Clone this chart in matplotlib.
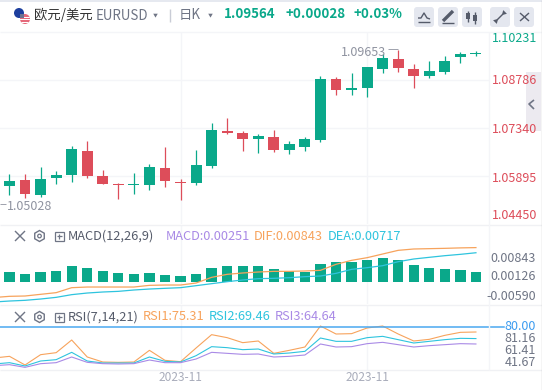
import numpy as np
import matplotlib
matplotlib.use('Agg')
import matplotlib.pyplot as plt
from matplotlib.patches import Circle, FancyBboxPatch, Rectangle, RegularPolygon

plt.rcParams['font.family'] = ['Noto Sans CJK SC', 'DejaVu Sans']

# K-line data
opens = [1.05596, 1.05776, 1.05325, 1.05836, 1.05927, 1.06649, 1.05896, 1.05656, 1.05626, 1.05626, 1.06137,
         1.05716, 1.05686, 1.06198, 1.07251, 1.07191, 1.07010, 1.07070, 1.06679, 1.06769, 1.06980, 1.08816,
         1.08485, 1.08545, 1.09117, 1.09418, 1.09117, 1.08906, 1.09027, 1.09478, 1.09569]
closes = [1.05746, 1.05355, 1.05806, 1.05927, 1.06709, 1.05896, 1.05656, 1.05626, 1.05656, 1.06167, 1.05746,
          1.05686, 1.06228, 1.07281, 1.07191, 1.07010, 1.07100, 1.06679, 1.06860, 1.07010, 1.08816, 1.08485,
          1.08545, 1.09177, 1.09448, 1.09147, 1.08906, 1.09057, 1.09358, 1.09569, 1.09599]
highs = [1.05957, 1.05957, 1.06167, 1.06047, 1.06799, 1.06950, 1.06077, 1.05686, 1.05987, 1.06258, 1.06769,
         1.05806, 1.06679, 1.07492, 1.07642, 1.07251, 1.07161, 1.07281, 1.06950, 1.07070, 1.08906, 1.08876,
         1.08997, 1.09177, 1.09569, 1.09689, 1.09268, 1.09358, 1.09508, 1.09629, 1.09659]
lows = [1.05325, 1.05234, 1.05264, 1.05656, 1.05716, 1.05836, 1.05656, 1.05204, 1.05355, 1.05475, 1.05565,
        1.05174, 1.05626, 1.06137, 1.07161, 1.06649, 1.06589, 1.06619, 1.06559, 1.06649, 1.06920, 1.08335,
        1.08335, 1.08274, 1.08997, 1.09027, 1.08545, 1.08846, 1.08967, 1.09298, 1.09508]

# MACD
macd = [0.00250, 0.00200, 0.00250, 0.00275, 0.00400, 0.00350, 0.00275, 0.00225, 0.00200, 0.00225, 0.00175,
        0.00150, 0.00200, 0.00350, 0.00400, 0.00400, 0.00400, 0.00325, 0.00275, 0.00250, 0.00450, 0.00500,
        0.00500, 0.00550, 0.00600, 0.00533, 0.00425, 0.00350, 0.00325, 0.00300, 0.00251]
# first point of each line is the candle just off the left edge
dif = [-0.00380, -0.00351, -0.00343, -0.00302, -0.00261, -0.00139, -0.00123, -0.00123, -0.00123, -0.00123,
       -0.00082, -0.00074, -0.00074, -0.00025, 0.00114, 0.00188, 0.00221, 0.00245, 0.00261, 0.00261, 0.00270,
       0.00286, 0.00433, 0.00531, 0.00596, 0.00686, 0.00776, 0.00809, 0.00817, 0.00825, 0.00836, 0.00843]
dea = [-0.00490, -0.00466, -0.00449, -0.00417, -0.00376, -0.00310, -0.00270, -0.00245, -0.00229, -0.00196,
       -0.00172, -0.00155, -0.00139, -0.00090, -0.00041, 0.00008, 0.00049, 0.00082, 0.00090, 0.00106, 0.00131,
       0.00147, 0.00212, 0.00310, 0.00351, 0.00400, 0.00498, 0.00564, 0.00605, 0.00645, 0.00678, 0.00717]

# RSI
rsi1 = [52.17, 53.65, 45.94, 55.13, 56.91, 68.19, 53.06, 48.61, 48.31, 48.61, 59.00, 50.09, 48.90, 61.07, 72.94,
        70.27, 65.82, 67.30, 56.32, 59.00, 61.96, 80.65, 73.53, 73.83, 78.87, 80.65, 73.53, 67.30, 68.78, 72.34,
        75.01, 75.31]
rsi2 = [46.83, 48.01, 45.05, 49.50, 50.68, 57.21, 49.50, 47.72, 47.72, 47.72, 53.06, 49.20, 48.61, 54.24, 62.26,
        61.37, 59.59, 60.18, 55.73, 56.62, 58.10, 69.97, 67.00, 67.00, 70.27, 71.45, 68.49, 65.52, 67.00, 68.49,
        69.67, 69.46]
rsi3 = [45.34, 46.23, 43.86, 47.12, 48.01, 53.06, 48.31, 47.12, 46.83, 47.12, 50.39, 48.01, 48.01, 51.28, 57.21,
        56.32, 55.43, 55.73, 53.06, 53.65, 54.84, 64.63, 61.96, 62.26, 64.93, 66.11, 64.04, 61.96, 63.15, 64.04,
        64.93, 64.64]

date_pos = [11, 23]
date_labels = ['2023-11', '2023-11']

GREEN = '#0aa88a'
RED = '#dd4d5a'
ORANGE = '#f7a35c'
BLUE = '#2ec4de'
PURPLE = '#a98ae6'
GRID = '#f4f5f8'
GRAY = '#6f7585'
W, H = 542, 390

fig = plt.figure(figsize=(W / 100, H / 100), dpi=100, facecolor='white')


def panel(top, bottom):
    # axes from pixel rows, all share the same column
    a = fig.add_axes([0, 1 - bottom / H, 489 / W, (bottom - top) / H])
    a.set_xlim(-0.611, 30.84)
    for s in a.spines.values():
        s.set_visible(False)
    a.tick_params(length=0, labelleft=False, labelbottom=False, left=False)
    a.set_xticks(date_pos)
    a.grid(axis='x', color=GRID, lw=1)
    a.set_axisbelow(True)
    return a


# 日K
ax = panel(32, 224)
ax.set_ylim(1.0445, 1.10231)
ax.set_yticks([1.05895, 1.0734, 1.08786])
ax.grid(axis='y', color=GRID, lw=1)
x = np.arange(len(opens))
colors = [GREEN if c >= o else RED for o, c in zip(opens, closes)]
ax.vlines(x, lows, highs, colors=colors, lw=0.9)
ax.bar(x, np.abs(np.array(closes) - np.array(opens)), bottom=np.minimum(opens, closes), width=0.7, color=colors)

# MACD
ax2 = panel(225, 304)
ax2.set_ylim(-0.00539, 0.01397)
ax2.bar(x, macd, width=0.66, color=GREEN)
x_line = np.arange(-1, 31)
ax2.plot(x_line, dif, color=ORANGE, lw=0.9)
ax2.plot(x_line, dea, color=BLUE, lw=0.9)

# RSI
ax3 = panel(305, 370)
ax3.set_ylim(41.49, 99.34)
ax3.plot(x_line, rsi1, color=ORANGE, lw=0.8)
ax3.plot(x_line, rsi2, color=BLUE, lw=0.8)
ax3.plot(x_line, rsi3, color=PURPLE, lw=0.8)
ax3.plot([0, 504 / 489], [80, 80], color='#4aa8f0', lw=1.1, clip_on=False,
         transform=ax3.get_yaxis_transform())
ax3.tick_params(labelbottom=True, labelcolor='#a9adbb', labelsize=8.6, pad=1)
ax3.set_xticklabels(date_labels)

# page furniture in pixel coordinates
ov = fig.add_axes([0, 0, 1, 1], facecolor='none')
ov.set_xlim(0, W)
ov.set_ylim(H, 0)
ov.axis('off')


def txt(px, py, s, color, size=9, ha='left', weight='normal'):
    ov.text(px, py, s, color=color, fontsize=size, ha=ha, va='center', fontweight=weight)


def seg(xs, ys, color=GRAY, lw=1.0):
    ov.plot(xs, ys, color=color, lw=lw, solid_capstyle='butt')


ov.add_patch(Rectangle((0, 0), W, 2, color='#e6e9f0', lw=0))
seg([0, 542], [32, 32], GRID)
seg([0, 542], [225, 225], '#f0f1f4')
seg([0, 542], [304.5, 304.5], '#f0f1f4')
seg([0, 542], [370, 370], '#f0f1f4')
seg([488.5, 488.5], [32, 370], GRID)
seg([541.5, 541.5], [0, 390], '#555555', 0.8)

# flag icon
ov.add_patch(Circle((19, 13), 5, color='#1d3f9e', lw=0))
flag = Circle((25, 19), 5, color='#e5697a', lw=0)
ov.add_patch(flag)
for yy in (16.5, 19, 21.5):
    st = Rectangle((19, yy), 12, 1, color='white', lw=0)
    ov.add_patch(st)
    st.set_clip_path(flag)
ov.add_patch(Rectangle((20, 14), 4, 4, color='#6b7290', lw=0))

txt(34, 14.5, '欧元/美元', '#333333', 9.6)
txt(96, 15.5, 'EURUSD', GRAY, 9.6)
# y runs downward here, so orientation 0 points the triangle down
ov.add_patch(RegularPolygon((155.5, 15), 3, radius=2.6, orientation=0, color=GRAY, lw=0))
seg([169.5, 169.5], [9, 22], '#c9ccd6')
txt(179, 14.5, '日K', GRAY, 9.6)
ov.add_patch(RegularPolygon((210.5, 15), 3, radius=2.6, orientation=0, color=GRAY, lw=0))
txt(224, 14.5, '1.09564', GREEN, 9.6, weight='bold')
txt(285, 14.5, '+0.00028', GREEN, 9.6, weight='bold')
txt(354, 14.5, '+0.03%', GREEN, 9.6, weight='bold')

# toolbar buttons
for bx in (414, 438, 462, 490, 514):
    ov.add_patch(FancyBboxPatch((bx + 2, 9), 16, 16, boxstyle='round,pad=2,rounding_size=3', color='#e4e7ef', lw=0))
seg([418, 421, 424, 427, 430], [18, 18, 13, 18, 19], '#555b6a')
seg([418, 430], [22, 22], '#555b6a')
seg([443, 453], [21, 11], '#555b6a', 2.4)
seg([442, 454], [23, 23], '#555b6a')
seg([468, 468], [11, 22], '#555b6a')
ov.add_patch(Rectangle((466, 13), 4, 6, color='#555b6a', lw=0))
seg([475, 475], [12, 24], '#555b6a')
ov.add_patch(Rectangle((473, 15), 4, 6, color='#555b6a', lw=0))
seg([497, 503], [20, 14], '#555b6a', 1.0)
ov.add_patch(RegularPolygon((504, 13), 3, radius=3, orientation=np.pi / 4, color='#555b6a', lw=0))
ov.add_patch(RegularPolygon((496, 21), 3, radius=3, orientation=np.pi * 5 / 4, color='#555b6a', lw=0))
seg([520, 529], [13, 21], '#555b6a')
seg([520, 529], [21, 13], '#555b6a')

# price labels
txt(537, 39, '1.10231', GREEN, ha='right')
for py, s in ((81, '1.08786'), (129.5, '1.07340'), (178.5, '1.05895'), (215.5, '1.04450')):
    txt(537, py, s, RED, ha='right')
txt(341, 52, '1.09653', '#8f93a0')
seg([388, 398], [49, 49], '#8f93a0', 0.6)
txt(7, 207, '1.05028', '#8f93a0')
seg([0, 6], [204, 204], '#8f93a0', 0.6)

# collapse tab
ov.add_patch(Rectangle((526, 72), 15, 59, color='#eceaf0', lw=0))
seg([534, 529, 534], [100, 104, 109], '#6f7585', 1.2)

# indicator headers
for py in (236, 317):
    seg([15, 25], [py - 5, py + 5], GRAY)
    seg([15, 25], [py + 5, py - 5], GRAY)
    ov.add_patch(RegularPolygon((39.5, py), 6, radius=5.5, fill=False, ec=GRAY, lw=1))
    ov.add_patch(Circle((39.5, py), 1.8, fill=False, ec=GRAY, lw=0.9))
    ov.add_patch(Rectangle((54.5, py - 4.5), 9, 9, fill=False, ec=GRAY, lw=0.9))
    seg([56.5, 61.5], [py, py], GRAY, 0.9)
    seg([59, 59], [py - 2.5, py + 2.5], GRAY, 0.9)

txt(68, 236, 'MACD(12,26,9)', '#555b6a', 9.2)
txt(166, 236, 'MACD:0.00251', PURPLE, 9.2)
txt(254, 236, 'DIF:0.00843', ORANGE, 9.2)
txt(328, 236, 'DEA:0.00717', BLUE, 9.2)
txt(68, 317, 'RSI(7,14,21)', '#555b6a', 9.2)
txt(143, 317, 'RSI1:75.31', ORANGE, 9.2)
txt(209, 317, 'RSI2:69.46', BLUE, 9.2)
txt(275, 317, 'RSI3:64.64', PURPLE, 9.2)

for py, s in ((259, '0.00843'), (277, '0.00126'), (297, '-0.00590')):
    txt(536, py, s, GRAY, ha='right')
txt(536, 327, '80.00', '#3c9cf0', 9, ha='right')
for py, s in ((339, '81.16'), (350.5, '61.41'), (362, '41.67')):
    txt(536, py, s, GRAY, 9, ha='right')

fig.savefig('out.png', dpi=100)
